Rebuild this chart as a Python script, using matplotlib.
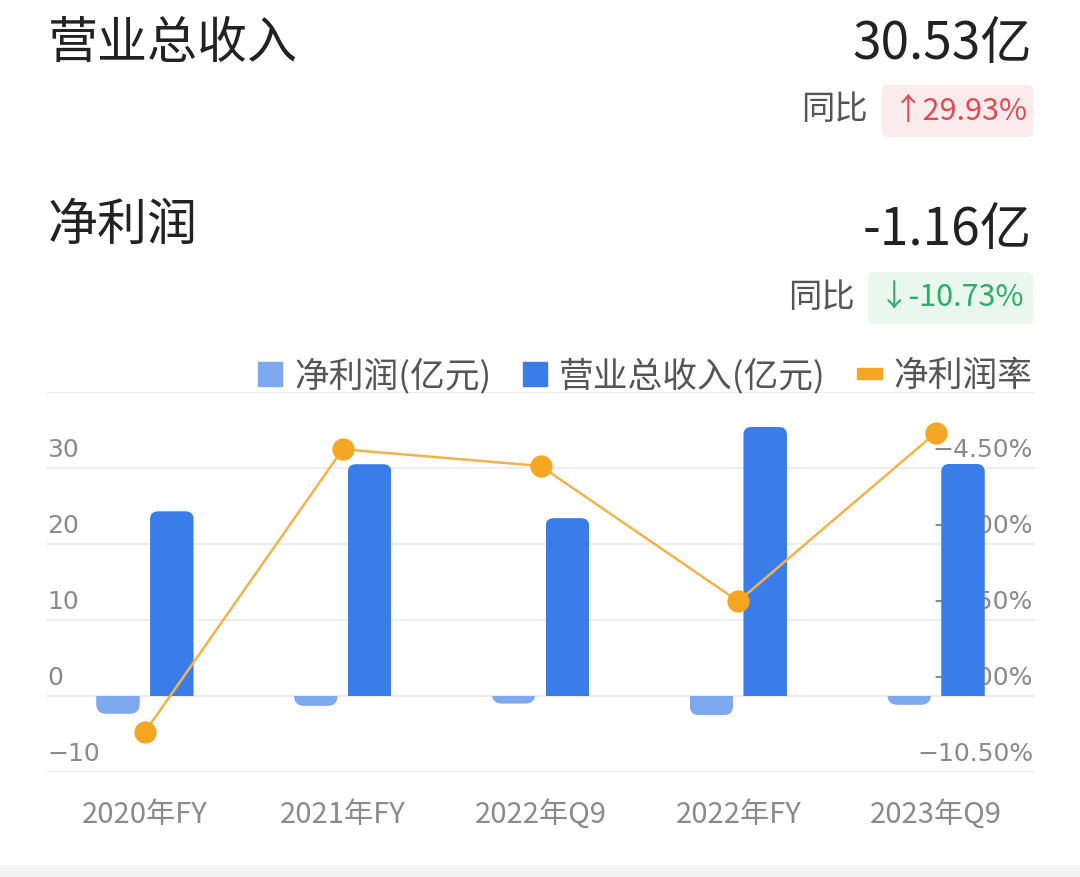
import numpy as np
import matplotlib.pyplot as plt
import matplotlib.transforms as mtransforms
from matplotlib.patches import Patch, FancyBboxPatch
from matplotlib.legend_handler import HandlerPatch

plt.rcParams['font.family'] = ['Noto Sans CJK SC', 'DejaVu Sans']

# data
categories = ['2020年FY', '2021年FY', '2022年Q9', '2022年FY', '2023年Q9']
net_profit = [-2.35, -1.3, -1.0, -2.55, -1.16]      # 亿元
revenue = [24.3, 30.5, 23.4, 35.4, 30.53]            # 亿元
net_margin = [-9.71, -4.13, -4.46, -7.13, -3.80]     # %
left_ticks = [-10, 0, 10, 20, 30]
right_ticks = [-10.5, -9.0, -7.5, -6.0, -4.5]

c_profit = '#7EA9EE'
c_rev = '#3B7DE8'
c_line = '#F3B24A'
c_marker = '#F5A623'
c_tick = '#8A8A8A'

fig = plt.figure(figsize=(10.8, 8.77), dpi=100)

# header
fig.text(48 / 1080, 1 - 44 / 877, '营业总收入', fontsize=36, color='#222222',
         ha='left', va='center', fontweight='medium')
fig.text(1032 / 1080, 1 - 44 / 877, '30.53亿', fontsize=37, color='#222222',
         ha='right', va='center', fontweight='medium')
fig.text(48 / 1080, 1 - 226 / 877, '净利润', fontsize=36, color='#222222',
         ha='left', va='center', fontweight='medium')
fig.text(1032 / 1080, 1 - 230 / 877, '-1.16亿', fontsize=37, color='#222222',
         ha='right', va='center', fontweight='medium')

# yoy badges
fig.patches.append(FancyBboxPatch((882 / 1080, 1 - 137 / 877), 151 / 1080, 52 / 877,
                                  boxstyle='round,pad=0,rounding_size=0.005',
                                  transform=fig.transFigure, fc='#FCEBEC', ec='none'))
fig.text(868 / 1080, 1 - 110 / 877, '同比', fontsize=24, color='#555555',
         ha='right', va='center')
fig.text(960 / 1080, 1 - 111 / 877, '↑29.93%', fontsize=22, color='#E14B52',
         ha='center', va='center')

fig.patches.append(FancyBboxPatch((868 / 1080, 1 - 324 / 877), 165 / 1080, 52 / 877,
                                  boxstyle='round,pad=0,rounding_size=0.005',
                                  transform=fig.transFigure, fc='#E9F7EF', ec='none'))
fig.text(855 / 1080, 1 - 297 / 877, '同比', fontsize=24, color='#555555',
         ha='right', va='center')
fig.text(952 / 1080, 1 - 298 / 877, '↓-10.73%', fontsize=22, color='#2BAE66',
         ha='center', va='center')

# chart
ax = fig.add_axes([46 / 1080, (877 - 772) / 877, 989 / 1080, 380 / 877])
ax2 = ax.twinx()
ax.set_zorder(1)
ax2.set_zorder(2)
ax.patch.set_visible(False)
ax2.patch.set_visible(False)

x = np.arange(len(categories))
w = 0.22
off = 0.136

ax.set_xlim(-0.5, len(categories) - 0.5)
ax.set_ylim(-10, 40)
ax2.set_ylim(-10.5, -3.0)

for gy in [-10, 0, 10, 20, 30, 40]:
    ax.axhline(gy, color='#EDEDED', lw=1.5, zorder=0)

lift = mtransforms.offset_copy(ax.get_yaxis_transform(), fig=fig, y=4, units='points')
for t in left_ticks:
    ax.text(0.001, t, f'{t}'.replace('-', '−'), transform=lift,
            fontsize=18, color=c_tick, ha='left', va='bottom', zorder=0.5,
            fontfamily=['DejaVu Sans'])
# right labels sit on the lower axes so the bars cover them, as in the picture
right_tr = mtransforms.blended_transform_factory(ax.transAxes, ax2.transData)
right_tr = mtransforms.offset_copy(right_tr, fig=fig, y=4, units='points')
for t in right_ticks:
    ax.text(0.998, t, f'{t:.2f}%'.replace('-', '−'), transform=right_tr,
            fontsize=18, color=c_tick, ha='right', va='bottom', zorder=0.5,
            fontfamily=['DejaVu Sans'])

bars_p = ax.bar(x - off, net_profit, width=w, color=c_profit, zorder=3)
bars_r = ax.bar(x + off, revenue, width=w, color=c_rev, zorder=3)

# rounded ends on the bars (base stays square)
bb = ax.get_window_extent()
px_x = bb.width / 5.0
px_y = bb.height / 50.0
for bars, r_px in ((bars_p, 10), (bars_r, 8)):
    rx, ry = r_px / px_x, r_px / px_y
    for p in bars:
        x0, y0, bw, bh = p.get_x(), p.get_y(), p.get_width(), p.get_height()
        if bh >= 0:
            lo, hi = y0 - ry, y0 + bh
        else:
            lo, hi = y0 + bh, y0 + ry
        fb = FancyBboxPatch((x0, lo), bw, hi - lo,
                            boxstyle=f'round,pad=0,rounding_size={rx}',
                            mutation_aspect=ry / rx, fc=p.get_facecolor(), ec='none', zorder=3)
        ax.add_patch(fb)
        fb.set_clip_path(p)
        p.set_alpha(0)

ax2.plot(x, net_margin, color=c_line, lw=1.8, zorder=4)
ax2.plot(x, net_margin, 'o', color=c_marker, ms=15, zorder=5)

ax.set_xticks(x)
ax.set_xticklabels(categories, fontsize=21, color=c_tick)
ax.tick_params(axis='x', length=0, pad=20)
ax.set_yticks([])
ax2.set_yticks([])
for a in (ax, ax2):
    for s in a.spines.values():
        s.set_visible(False)


# legend: the rate entry uses a flat bar
def flat_rect(legend, orig_handle, xdescent, ydescent, width, height, fontsize):
    return plt.Rectangle((-xdescent, -ydescent + height * 0.27), width, height * 0.46)


handles = [Patch(color=c_profit), Patch(color=c_rev), Patch(color=c_marker)]
labels = ['净利润(亿元)', '营业总收入(亿元)', '净利润率']
fig.legend(handles, labels, loc='center right', bbox_to_anchor=(1064 / 1080, 1 - 376 / 877),
           ncol=3, frameon=False, fontsize=25, labelcolor='#555555',
           handlelength=0.7, handleheight=0.7, handletextpad=0.35, columnspacing=0.9,
           handler_map={handles[2]: HandlerPatch(patch_func=flat_rect)})

# bottom strip
fig.patches.append(plt.Rectangle((0, 0), 1, 12 / 877, transform=fig.transFigure,
                                 fc='#F4F4F4', ec='none'))

fig.savefig('out.png', dpi=100, facecolor='white')
